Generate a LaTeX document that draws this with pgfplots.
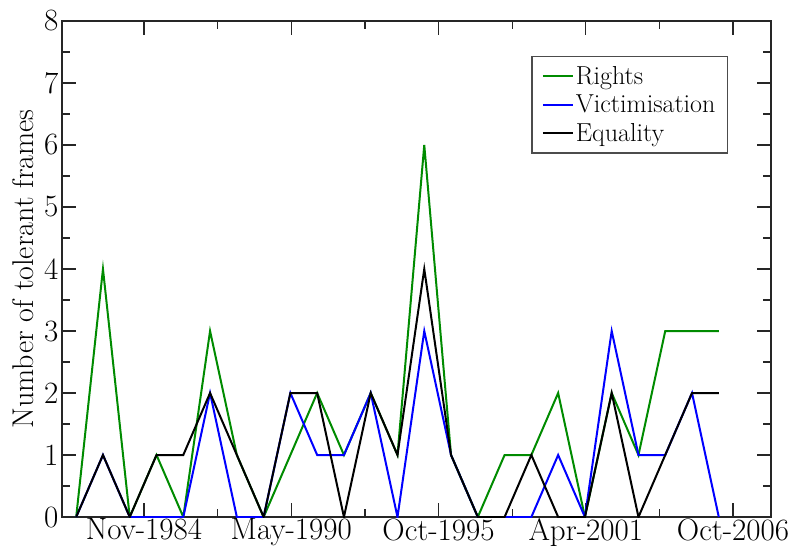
\documentclass[border=0pt]{standalone}
\usepackage{fontspec}
\usepackage{pgfplots}
\pgfplotsset{compat=1.18}
\definecolor{ggreen}{RGB}{0,139,0}
\definecolor{gblue}{RGB}{0,0,255}
\pgfplotstableread{
x r v e
1982.3 0 0 0
1983.3 4 1 1
1984.3 0 0 0
1985.3 1 0 1
1986.3 0 0 1
1987.3 3 2 2
1988.3 1 0 1
1989.3 0 0 0
1990.3 1 2 2
1991.3 2 1 2
1992.3 1 1 0
1993.3 2 2 2
1994.3 1 0 1
1995.3 6 3 4
1996.3 1 1 1
1997.3 0 0 0
1998.3 1 0 0
1999.3 1 0 1
2000.3 2 1 0
2001.3 0 0 0
2002.3 2 3 2
2003.3 1 1 0
2004.3 3 1 1
2005.3 3 2 2
2006.3 3 0 2
}\data
\begin{document}
\begin{tikzpicture}
\begin{axis}[
 scale only axis, width=709pt, height=496pt,
 at={(0,0)}, anchor=south west,
 xmin=1981.77, xmax=2008.25, ymin=0, ymax=8,
 xtick={1984.833,1990.333,1995.833,2001.333,2006.833},
 xticklabels={Nov-1984,May-1990,Oct-1995,Apr-2001,Oct-2006},
 ytick={0,...,8},
 minor x tick num=1, minor y tick num=1,
 tick align=inside,
 major tick length=14pt, minor tick length=8pt,
 axis line style={line width=1.5pt, black!85},
 every tick/.style={black!85, line width=1.3pt},
 ticklabel style={font=\fontsize{31}{35}\selectfont},
 xticklabel style={yshift=2pt},
 /pgf/number format/assume math mode=true,
 ylabel={Number of tolerant frames},
 every axis y label/.style={at={(axis description cs:0,0.5)}, xshift=-39pt, rotate=90, anchor=center, font=\fontsize{30}{34}\selectfont},
 legend style={at={(0.9394,0.9294)}, anchor=north east, draw=black!70, line width=1.2pt,
   font=\fontsize{26}{30}\selectfont, inner xsep=10pt, inner ysep=8pt,
   nodes={inner ysep=2pt}, row sep=5pt},
 legend cell align=left,
 legend image code/.code={\draw[#1] (0pt,0pt) -- (30pt,0pt);},
]
\addplot[ggreen, line width=2pt] table[x=x,y=r] {\data};
\addlegendentry{Rights}
\addplot[gblue, line width=2pt] table[x=x,y=v] {\data};
\addlegendentry{Victimisation}
\addplot[black, line width=2pt] table[x=x,y=e] {\data};
\addlegendentry{Equality}
\end{axis}
\pgfresetboundingbox
\path[use as bounding box] (-62pt,-35pt) rectangle (729pt,517pt);
\end{tikzpicture}
\end{document}
